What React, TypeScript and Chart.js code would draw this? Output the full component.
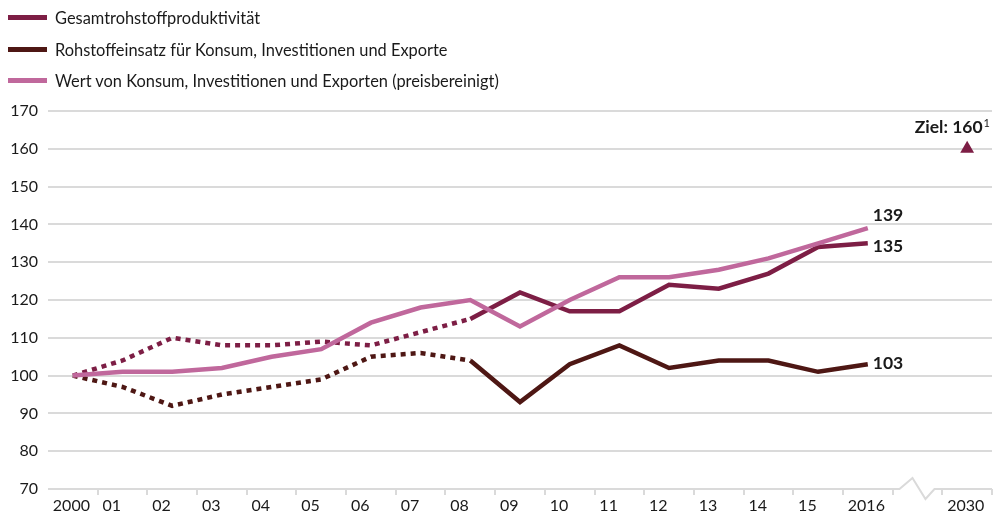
import React, { useEffect, useRef } from "react";
import { Chart, registerables } from "chart.js";

Chart.register(...registerables);

const categories = ["2000", "01", "02", "03", "04", "05", "06", "07", "08", "09", "10", "11", "12", "13", "14", "15", "2016", "", "2030"];
const gesamt = [100, 104, 110, 108, 108, 109, 108, 111.5, 115, 122, 117, 117, 124, 123, 127, 134, 135, null, null];
const rohstoff = [100, 97, 92, 95, 97, 99, 105, 106, 104, 93, 103, 108, 102, 104, 104, 101, 103, null, null];
const wert = [100, 101, 101, 102, 105, 107, 114, 118, 120, 113, 120, 126, 126, 128, 131, 135, 139, null, null];
const ziel = [null, null, null, null, null, null, null, null, null, null, null, null, null, null, null, null, null, null, 160];
const dottedUntil = 8;
const seriesNames = [
  "Gesamtrohstoffproduktivität",
  "Rohstoffeinsatz für Konsum, Investitionen und Exporte",
  "Wert von Konsum, Investitionen und Exporten (preisbereinigt)",
];
const endLabels = ["135", "103", "139"];
const zielLabel = "Ziel: 160";
const zielSup = "1";

const C_GES = "#7d1e45";
const C_ROH = "#4e1714";
const C_WERT = "#c0689c";
const GRID = "#dadada";
const TXT = "#1a1a1a";
const FONT = "Lato, 'Noto Sans', sans-serif";

export default function App() {
  const ref = useRef<HTMLCanvasElement>(null);
  useEffect(() => {
    const canvas = ref.current!;
    const dash = (c: any) => (c.p1DataIndex <= dottedUntil ? [5, 5] : undefined);
    const annot = {
      id: "annot",
      afterDatasetsDraw(chart: any) {
        const ctx = chart.ctx;
        const x = chart.scales.x;
        const y = chart.scales.y;
        ctx.save();
        // end labels
        ctx.fillStyle = TXT;
        ctx.font = "bold 17.5px " + FONT;
        ctx.textAlign = "left";
        ctx.textBaseline = "middle";
        const offs = [3, -1, -13];
        [0, 1, 2].forEach((i) => {
          const meta = chart.getDatasetMeta(i);
          const p = meta.data[16];
          ctx.fillText(endLabels[i], p.x + 5, p.y + offs[i]);
        });
        // Ziel label
        ctx.textAlign = "right";
        ctx.textBaseline = "alphabetic";
        ctx.font = "11px " + FONT;
        const supW = ctx.measureText(zielSup).width;
        ctx.fillText(zielSup, 990, 127);
        ctx.font = "bold 17.5px " + FONT;
        ctx.fillText(zielLabel, 990 - supW - 1, 133);
        // baseline with break
        const bx = x.getPixelForValue(17);
        const by = y.getPixelForValue(70);
        ctx.strokeStyle = GRID;
        ctx.lineWidth = 2;
        ctx.lineJoin = "miter";
        ctx.beginPath();
        ctx.moveTo(chart.chartArea.left, by);
        ctx.lineTo(bx - 18, by);
        ctx.lineTo(bx - 5, by - 11);
        ctx.lineTo(bx + 8, by + 10);
        ctx.lineTo(bx + 17, by);
        ctx.lineTo(chart.chartArea.right, by);
        ctx.stroke();
        ctx.restore();
      },
    };
    const chart = new Chart(canvas, {
      type: "line",
      data: {
        labels: categories,
        datasets: [
          { label: seriesNames[0], data: gesamt, borderColor: C_GES, borderWidth: 4.5, pointRadius: 0, segment: { borderDash: dash }, order: 2 },
          { label: seriesNames[1], data: rohstoff, borderColor: C_ROH, borderWidth: 4.5, pointRadius: 0, segment: { borderDash: dash }, order: 3 },
          { label: seriesNames[2], data: wert, borderColor: C_WERT, borderWidth: 4.5, pointRadius: 0, order: 1 },
          { label: "Ziel", data: ziel, borderColor: C_GES, backgroundColor: C_GES, showLine: false, pointStyle: "triangle", pointRadius: 8, pointBorderWidth: 0, order: 0 },
        ] as any,
      },
      options: {
        animation: false,
        responsive: false,
        spanGaps: false,
        layout: { padding: { top: 111, right: 7, left: 0, bottom: 0 } },
        plugins: { legend: { display: false }, tooltip: { enabled: false } },
        scales: {
          x: {
            offset: true,
            border: { display: false },
            grid: {
              offset: true,
              drawOnChartArea: false,
              drawTicks: true,
              tickLength: 6,
              lineWidth: 2,
              color: (c: any) => (c.index === 0 || c.index >= 19 ? "rgba(0,0,0,0)" : GRID),
            },
            ticks: {
              color: TXT,
              font: { family: FONT, size: 16 },
              align: "start",
              labelOffset: -20,
              padding: 1,
              maxRotation: 0,
              autoSkip: false,
            },
            afterFit: (a: any) => { a.height = 28; a.paddingLeft = 0; a.paddingRight = 0; },
          },
          y: {
            min: 70,
            max: 170,
            border: { display: false },
            grid: {
              drawTicks: false,
              lineWidth: 2,
              color: (c: any) => (c.tick && c.tick.value === 70 ? "rgba(0,0,0,0)" : GRID),
            },
            ticks: { stepSize: 10, color: TXT, font: { family: FONT, size: 16 }, padding: 10 },
            afterFit: (a: any) => { a.width = 48; },
          },
        },
      },
      plugins: [annot],
    });
    return () => chart.destroy();
  }, []);

  const colors = [C_GES, C_ROH, C_WERT];
  const rows = [17, 49, 80];
  return (
    <div style={{ position: "fixed", left: 0, top: 0, width: 1000, height: 517, background: "#fff" }}>
      <canvas ref={ref} width={1000} height={517} style={{ position: "absolute", left: 0, top: 0 }} />
      {seriesNames.map((n, i) => (
        <div key={n} style={{ position: "absolute", left: 8, top: rows[i] - 12, height: 24, display: "flex", alignItems: "center", fontFamily: FONT, fontSize: 16.4, color: TXT, whiteSpace: "nowrap" }}>
          <span style={{ display: "inline-block", width: 39, height: 5, background: colors[i], marginRight: 8 }} />
          <span>{n}</span>
        </div>
      ))}
    </div>
  );
}
